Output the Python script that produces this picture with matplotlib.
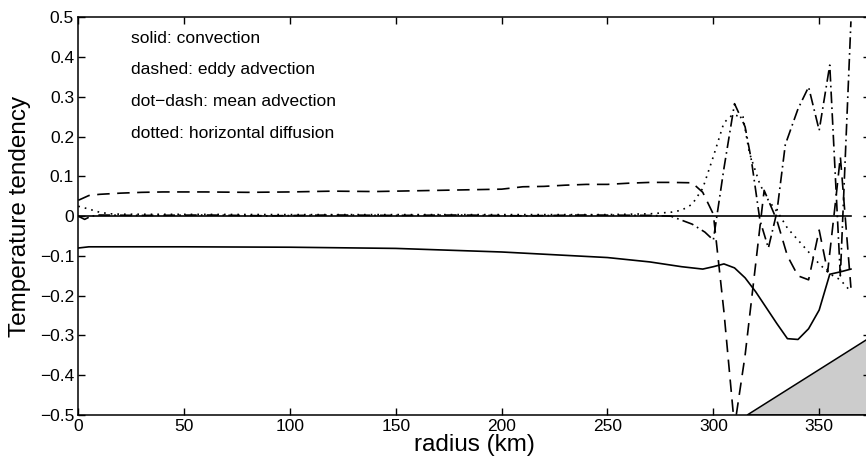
#!/usr/bin/env python3

import matplotlib.pyplot as plt
from matplotlib.ticker import FuncFormatter


# convection (solid)
CONV_R = [0, 5, 10, 20, 50, 100, 150, 200, 250, 270, 285, 295, 300, 305, 310,
          315, 320, 325, 330, 335, 340, 345, 350, 355, 360, 365]
CONV_T = [-0.080, -0.077, -0.077, -0.077, -0.077, -0.078, -0.081, -0.090, -0.104,
          -0.115, -0.127, -0.133, -0.127, -0.120, -0.130, -0.155, -0.190, -0.230,
          -0.270, -0.308, -0.310, -0.283, -0.236, -0.146, -0.140, -0.133]

# eddy advection (dashed)
EDDY_R = [0, 5, 10, 20, 30, 40, 60, 80, 100, 120, 140, 160, 180, 200, 210, 220,
          230, 240, 250, 260, 270, 280, 290, 295, 300, 305, 310, 315, 320, 324,
          330, 335, 340, 345, 350, 354, 358, 360, 365]
EDDY_T = [0.040, 0.052, 0.055, 0.058, 0.060, 0.061, 0.061, 0.060, 0.061, 0.063,
          0.062, 0.064, 0.066, 0.068, 0.074, 0.075, 0.078, 0.080, 0.080, 0.083,
          0.085, 0.085, 0.084, 0.060, 0.005, -0.240, -0.530, -0.350, -0.120, 0.065,
          -0.010, -0.100, -0.150, -0.160, -0.035, -0.140, 0.050, 0.150, -0.180]

# mean advection (dash-dot)
MEAN_R = [0, 3, 6, 10, 30, 60, 90, 120, 150, 180, 210, 240, 270, 280, 290, 296,
          300, 305, 310, 315, 318, 322, 326, 330, 334, 340, 345, 350, 355, 360, 365]
MEAN_T = [0.000, -0.008, 0.000, 0.003, 0.002, 0.003, 0.001, 0.003, 0.002, 0.003,
          0.001, 0.003, 0.002, 0.000, -0.020, -0.040, -0.060, 0.120, 0.283, 0.225,
          0.140, -0.010, -0.080, 0.010, 0.180, 0.270, 0.325, 0.216, 0.380, -0.150,
          0.490]

# horizontal diffusion (dotted)
DIFF_R = [0, 5, 10, 15, 20, 100, 200, 250, 260, 270, 280, 285, 290, 295, 300,
          305, 309, 314, 317, 322, 326, 331, 335, 340, 345, 350, 355, 360, 365]
DIFF_T = [0.025, 0.018, 0.010, 0.006, 0.005, 0.004, 0.004, 0.004, 0.005, 0.006,
          0.010, 0.015, 0.030, 0.070, 0.150, 0.235, 0.255, 0.250, 0.160, 0.080,
          0.040, 0.005, -0.030, -0.060, -0.090, -0.120, -0.145, -0.160, -0.190]

# topography wedge
TOPO_R = [316, 380, 380]
TOPO_T = [-0.5, -0.285, -0.5]

LABELS = [
    "solid: convection",
    "dashed: eddy advection",
    "dot\u2212dash: mean advection",
    "dotted: horizontal diffusion",
]


def main():
    plt.rcParams["font.family"] = ["Liberation Sans", "DejaVu Sans"]

    fig = plt.figure(figsize=(8.66, 4.70), dpi=100)
    ax = fig.add_axes([0.0904, 0.117, 1.0046 - 0.0904, 0.963 - 0.117])

    ax.fill(TOPO_R, TOPO_T, facecolor="#cccccc", edgecolor="black", linewidth=1.1,
            zorder=1)
    ax.plot([0, 365], [0, 0], color="black", linewidth=1.2, zorder=2)

    lw = 1.2
    ax.plot(CONV_R, CONV_T, color="black", linewidth=lw, linestyle="-")
    ax.plot(EDDY_R, EDDY_T, color="black", linewidth=lw, linestyle=(0, (7.5, 4.5)))
    ax.plot(MEAN_R, MEAN_T, color="black", linewidth=lw,
            linestyle=(0, (7, 2.5, 1, 2.5)))
    ax.plot(DIFF_R, DIFF_T, color="black", linewidth=lw,
            linestyle=(0, (1, 3)))

    ax.set_xlim(0, 374)
    ax.set_ylim(-0.5, 0.5)
    ax.set_xticks(range(0, 351, 50))
    ax.set_yticks([i / 10 for i in range(-5, 6)])
    ax.yaxis.set_major_formatter(
        FuncFormatter(lambda v, p: "0" if abs(v) < 1e-9 else f"{v:.1f}".replace("-", "\u2212"))
    )
    ax.tick_params(direction="in", length=5, width=1.0, top=True, right=True,
                   labelsize=12.5, pad=3)
    for s in ax.spines.values():
        s.set_linewidth(1.1)

    ax.set_xlabel("radius (km)", fontsize=17.5, labelpad=0)
    ax.set_ylabel("Temperature tendency", fontsize=17.5, labelpad=6)

    for i, txt in enumerate(LABELS):
        ax.text(25, 0.448 - i * 0.0797, txt, fontsize=12.5, ha="left", va="center")

    fig.savefig("out.png", dpi=100)
    plt.close(fig)


if __name__ == "__main__":
    main()
